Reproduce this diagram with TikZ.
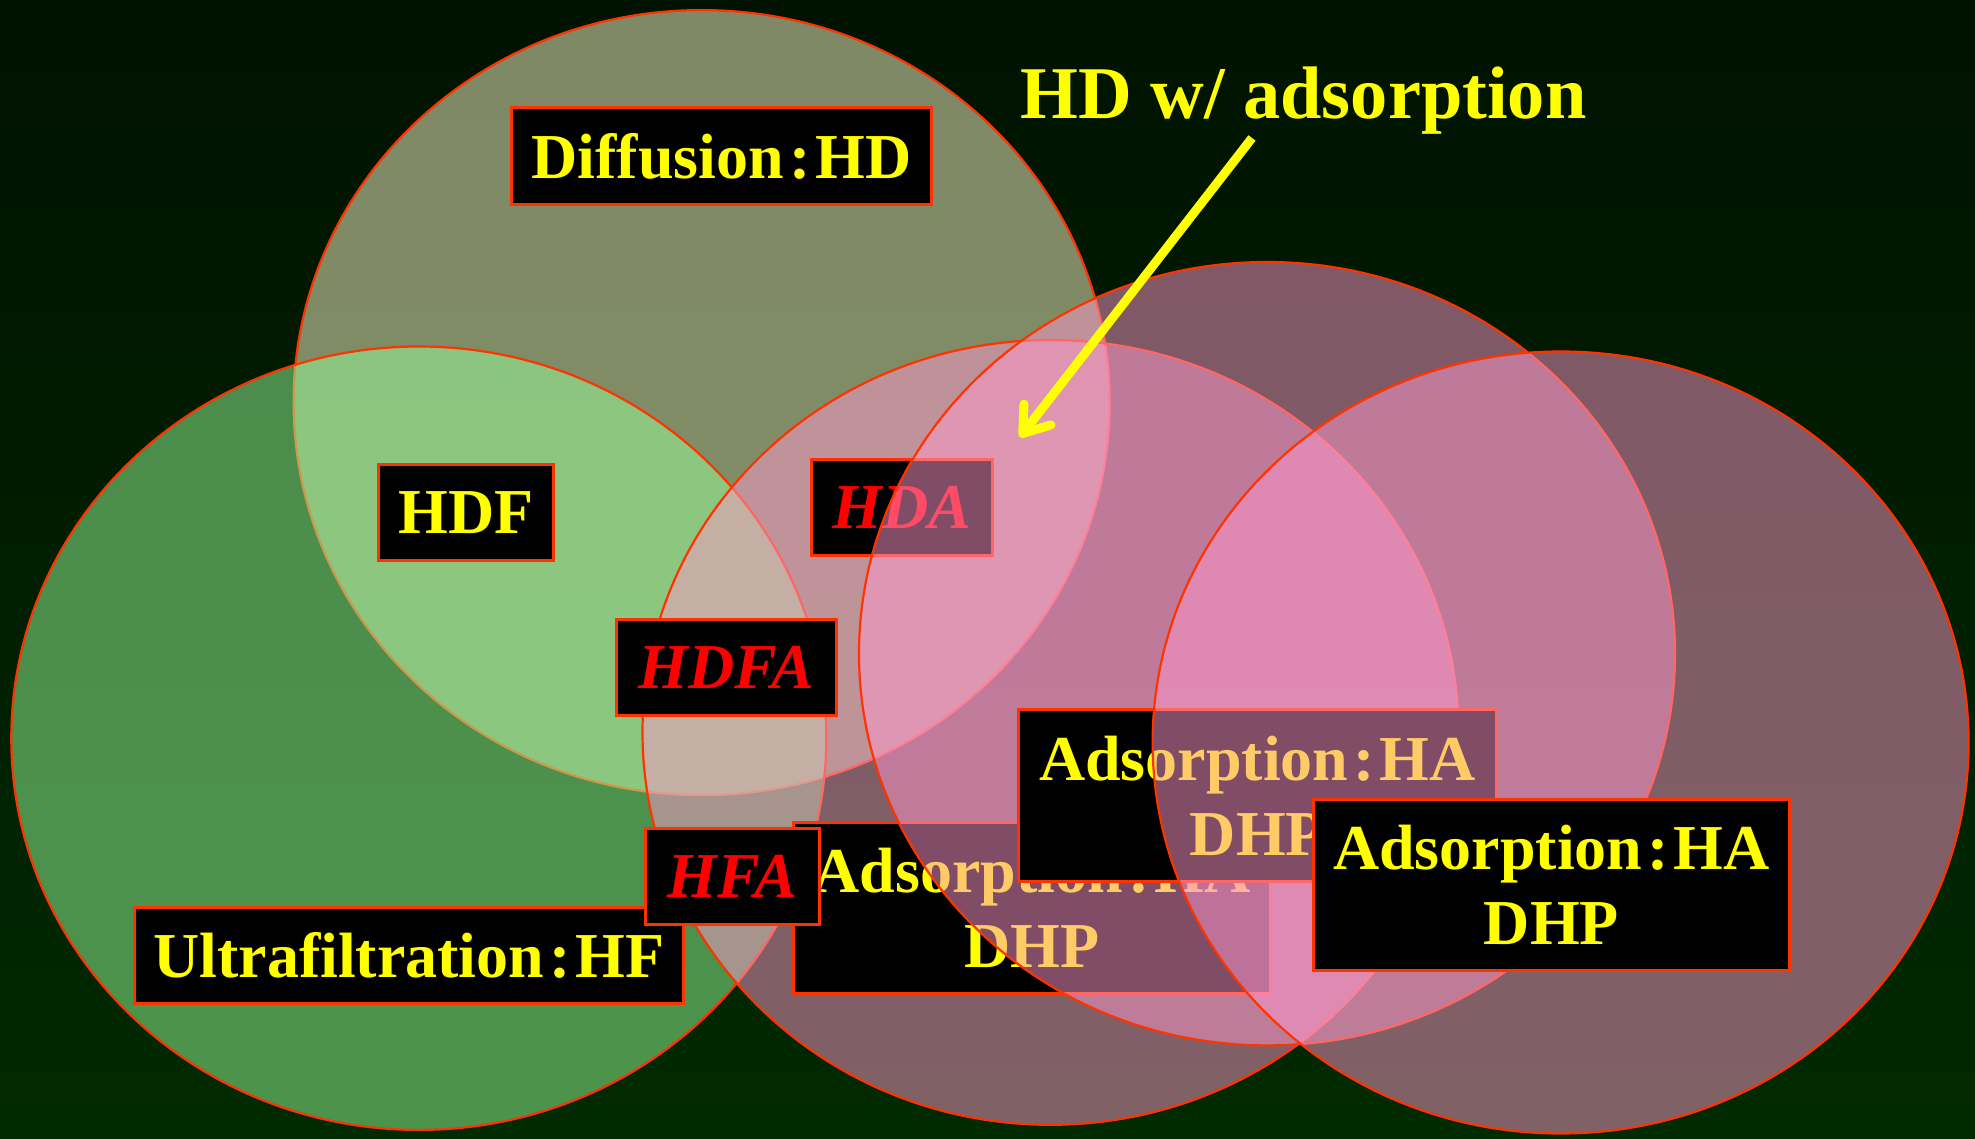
\documentclass[tikz,border=0pt]{standalone}
\usepackage{fontspec}
\setmainfont{Liberation Serif}
\usetikzlibrary{arrows.meta}
\definecolor{bgtop}{RGB}{0,18,0}
\definecolor{bgbot}{RGB}{0,42,0}
\definecolor{edge}{RGB}{255,51,0}
\definecolor{cream}{RGB}{255,255,204}
\definecolor{mint}{RGB}{153,255,153}
\definecolor{rose}{RGB}{255,153,204}
\definecolor{ylw}{RGB}{255,255,0}
\definecolor{lblred}{RGB}{255,0,0}
\newcommand{\cln}{\hspace{0.08em}:\hspace{0.08em}}
\begin{document}
\begin{tikzpicture}[x=1pt,y=-1pt,
  zone/.style={draw=edge, line width=2.2pt, fill opacity=0.5},
  box/.style={draw=edge, line width=3pt, fill=black, inner sep=0pt, text=ylw,
    font=\bfseries\fontsize{64}{75}\selectfont},
  twobox/.style={box, align=center, minimum width=477pt, minimum height=171pt},
  itbox/.style={box, text=lblred, font=\bfseries\itshape\fontsize{64}{75}\selectfont},
  arrowline/.style={ylw, line width=9pt,
    -{Straight Barb[length=24pt, width=34pt, line cap=round, line join=round]}}
]
\useasboundingbox (0,0) rectangle (1975,1139);
\shade[top color=bgtop, bottom color=bgbot] (0,0) rectangle (1975,1139);

% diffusion circle
\path[zone, fill=cream] (701.6,402.6) ellipse [x radius=408pt, y radius=392.5pt];
\node[box, minimum width=420pt, minimum height=97pt] (diff) at (721.5,156) {Diffusion\cln HD};

% ultrafiltration circle
\path[zone, fill=mint] (418.8,738.2) ellipse [x radius=407.5pt, y radius=391.7pt];
\node[box, minimum width=175pt, minimum height=96pt] (hdf) at (466,512.5) {HDF};

% first adsorption circle
\path[zone, fill=rose] (1050.5,732.4) ellipse [x radius=408pt, y radius=392.4pt];
\node[box, minimum width=549pt, minimum height=96pt] (ultra) at (409,955.5) {Ultrafiltration\cln HF};
\node[itbox, minimum width=181pt, minimum height=96pt] (hda) at (902,507.5) {HDA};
\node[itbox, minimum width=220pt, minimum height=96pt] (hdfa) at (726.5,667.5) {HDFA};
\node[twobox] (adsa) at (1032,908) {Adsorption\cln HA\\DHP};
\node[itbox, minimum width=174pt, minimum height=96pt] (hfa) at (732.5,876.5) {HFA};

% second adsorption circle
\path[zone, fill=rose] (1267,653.7) ellipse [x radius=408pt, y radius=391.7pt];
\node[twobox, minimum width=478pt, minimum height=172pt] (adsb) at (1257.5,795.5) {Adsorption\cln HA\\DHP};

% third adsorption circle
\path[zone, fill=rose] (1560.6,742.5) ellipse [x radius=408pt, y radius=391pt];
\node[twobox, minimum width=476pt] (adsc) at (1551.5,885) {Adsorption\cln HA\\DHP};

% title and arrow
\node[anchor=base west, inner sep=0pt, text=ylw, font=\bfseries\fontsize{74.4}{90}\selectfont] (title) at (1020,119) {HD w/ adsorption};
\coordinate (arrs) at (1252,138);
\coordinate (arrt) at (1020,437);
\draw[arrowline] (arrs) -- (arrt);
\end{tikzpicture}
\end{document}
